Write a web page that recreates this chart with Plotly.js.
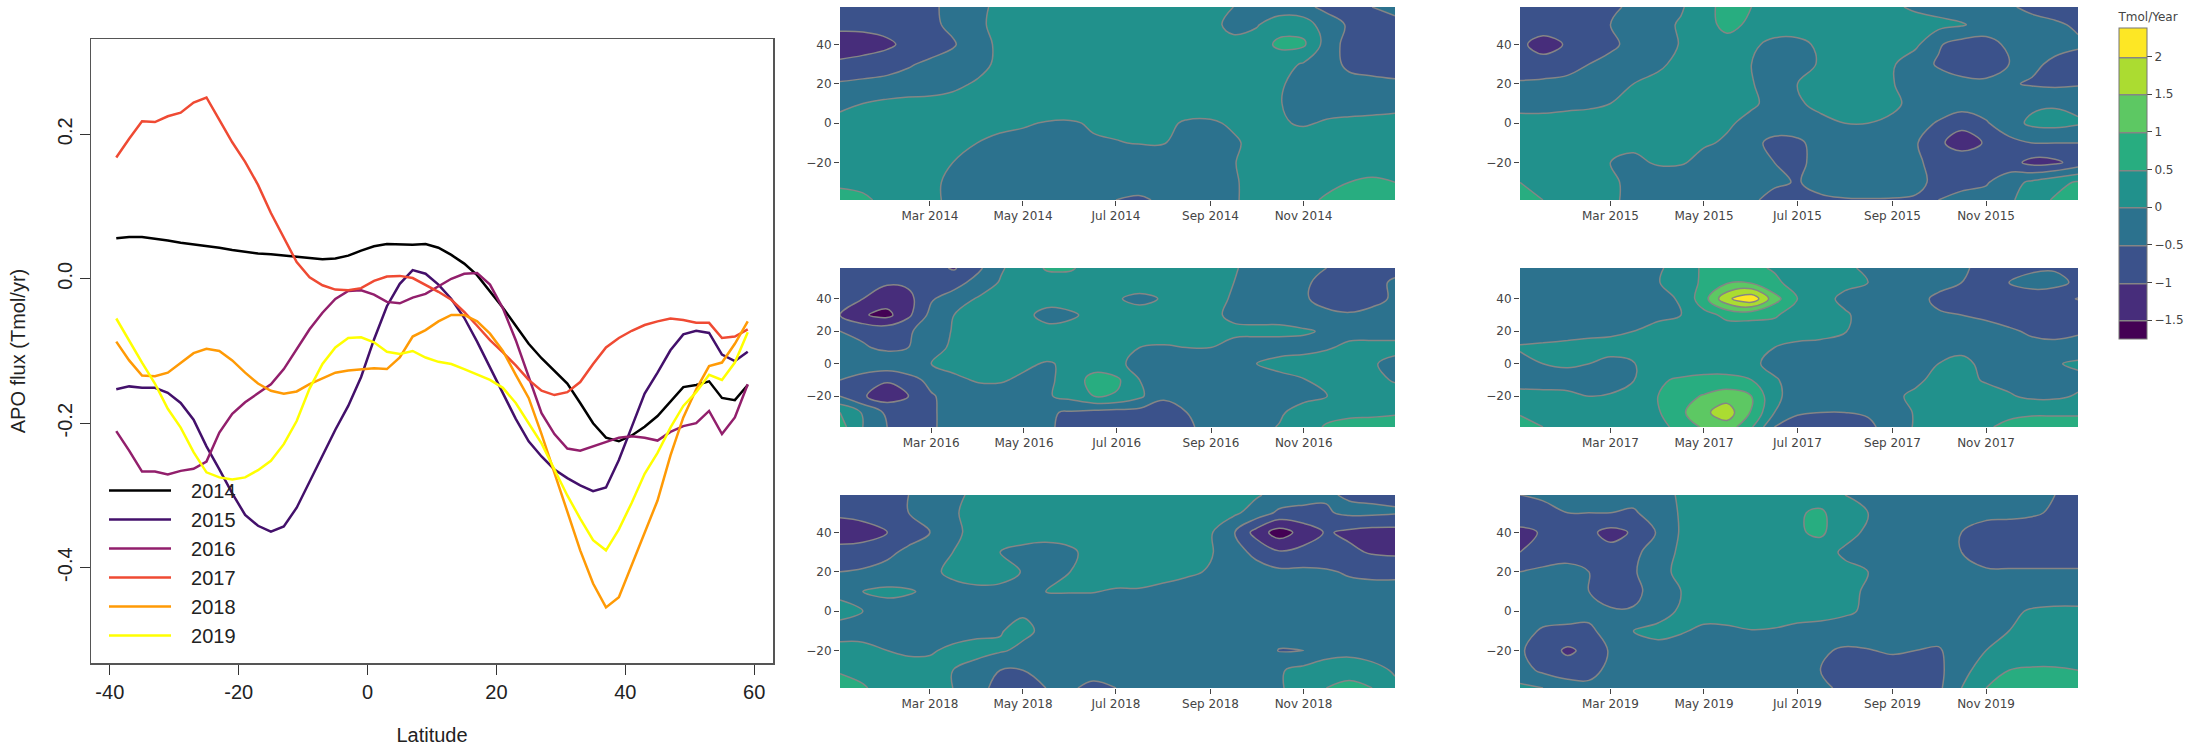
<!DOCTYPE html>
<html>
<head>
<meta charset="utf-8">
<script src="https://cdn.plot.ly/plotly-3.0.1.min.js"></script>
<style>
  html, body { margin: 0; padding: 0; background: #ffffff; }
  #chart { width: 2192px; height: 746px; }
</style>
</head>
<body>
<div id="chart"></div>
<script>
// ---- Zonal mean APO flux by year (left panel) ----
const latitudes = [-39,-37,-35,-33,-31,-29,-27,-25,-23,-21,-19,-17,-15,-13,-11,-9,-7,-5,-3,-1,
                   1,3,5,7,9,11,13,15,17,19,21,23,25,27,29,31,33,35,37,39,41,43,45,47,49,51,53,55,57,59];

const flux2014 = [0.056,0.058,0.058,0.056,0.053,0.050,0.048,0.046,0.043,0.040,
                  0.037,0.035,0.034,0.032,0.030,0.028,0.027,0.028,0.032,0.039,
                  0.045,0.048,0.047,0.047,0.048,0.043,0.033,0.021,0.005,-0.018,
                  -0.040,-0.065,-0.090,-0.110,-0.128,-0.145,-0.172,-0.200,-0.220,-0.225,
                  -0.217,-0.205,-0.190,-0.170,-0.150,-0.147,-0.142,-0.165,-0.168,-0.147];
const flux2015 = [-0.153,-0.149,-0.151,-0.151,-0.158,-0.172,-0.195,-0.232,-0.264,-0.297,
                  -0.327,-0.342,-0.350,-0.343,-0.317,-0.281,-0.243,-0.209,-0.176,-0.136,
                  -0.084,-0.038,-0.007,0.012,0.007,-0.008,-0.028,-0.054,-0.087,-0.123,
                  -0.159,-0.194,-0.225,-0.246,-0.264,-0.276,-0.286,-0.294,-0.289,-0.251,
                  -0.205,-0.159,-0.130,-0.099,-0.077,-0.072,-0.075,-0.105,-0.114,-0.101];
const flux2016 = [-0.211,-0.238,-0.267,-0.267,-0.271,-0.266,-0.263,-0.253,-0.213,-0.187,
                  -0.171,-0.159,-0.146,-0.125,-0.097,-0.070,-0.047,-0.028,-0.017,-0.016,
                  -0.022,-0.032,-0.034,-0.026,-0.021,-0.011,0.000,0.007,0.008,-0.008,
                  -0.041,-0.085,-0.135,-0.186,-0.215,-0.235,-0.238,-0.232,-0.225,-0.220,
                  -0.218,-0.220,-0.224,-0.212,-0.204,-0.200,-0.183,-0.215,-0.192,-0.146];
const flux2017 = [0.168,0.194,0.218,0.217,0.225,0.230,0.244,0.251,0.220,0.189,
                  0.162,0.130,0.091,0.056,0.023,0.002,-0.009,-0.015,-0.016,-0.013,
                  -0.003,0.003,0.004,0.001,-0.008,-0.018,-0.029,-0.046,-0.065,-0.085,
                  -0.102,-0.120,-0.140,-0.155,-0.161,-0.157,-0.143,-0.118,-0.095,-0.082,
                  -0.072,-0.064,-0.059,-0.055,-0.057,-0.061,-0.061,-0.082,-0.080,-0.070];
const flux2018 = [-0.087,-0.113,-0.134,-0.135,-0.130,-0.116,-0.103,-0.097,-0.100,-0.113,
                  -0.130,-0.145,-0.155,-0.159,-0.156,-0.146,-0.138,-0.130,-0.127,-0.125,
                  -0.124,-0.125,-0.109,-0.080,-0.071,-0.059,-0.050,-0.050,-0.059,-0.076,
                  -0.100,-0.133,-0.165,-0.215,-0.268,-0.324,-0.376,-0.422,-0.455,-0.441,
                  -0.396,-0.350,-0.307,-0.245,-0.192,-0.153,-0.121,-0.116,-0.090,-0.059];
const flux2019 = [-0.055,-0.086,-0.116,-0.145,-0.180,-0.206,-0.240,-0.268,-0.275,-0.278,
                  -0.275,-0.265,-0.252,-0.229,-0.197,-0.152,-0.118,-0.095,-0.082,-0.081,
                  -0.088,-0.101,-0.104,-0.100,-0.109,-0.115,-0.118,-0.125,-0.132,-0.140,
                  -0.151,-0.172,-0.200,-0.228,-0.264,-0.300,-0.332,-0.362,-0.376,-0.347,
                  -0.310,-0.270,-0.241,-0.206,-0.176,-0.157,-0.133,-0.140,-0.116,-0.074];

const years = ['2014','2015','2016','2017','2018','2019'];
const yearColors = ['#000000','#43106b','#921f6c','#ef4a33','#ff9a05','#ffff00'];
const zonalSeries = [flux2014, flux2015, flux2016, flux2017, flux2018, flux2019];

const xTickVals = [-40,-20,0,20,40,60];
const xTickText = ['-40','-20','0','20','40','60'];
const yTickVals = [-0.4,-0.2,0.0,0.2];
const yTickText = ['-0.4','-0.2','0.0','0.2'];

// ---- Time / latitude flux maps (right panels), Tmol/Year ----
const gridDays = ['01-01','01-16','02-01','02-15','03-01','03-16','04-01','04-16','05-01','05-16',
                  '06-01','06-16','07-01','07-16','08-01','08-16','09-01','09-16','10-01','10-16',
                  '11-01','11-16','12-01','12-16','12-31'];
const gridLats = [59,50,40,30,20,10,0,-10,-20,-30,-39];
const monthTicks = ['03-01','05-01','07-01','09-01','11-01'];

const map2014 = [
  [-0.8,-0.8,-0.75,-0.7,-0.6,-0.35,-0.15,0.15,0.25,0.3,0.3,0.3,0.3,0.3,0.3,0.25,0.15,0.0,-0.2,-0.3,-0.4,-0.6,-0.65,-0.5,-0.4],
  [-0.85,-0.85,-0.8,-0.75,-0.6,-0.4,-0.1,0.15,0.25,0.3,0.3,0.3,0.3,0.3,0.3,0.25,0.1,-0.1,-0.05,0.3,0.3,-0.3,-0.55,-0.65,-0.6],
  [-1.3,-1.25,-1.1,-0.85,-0.75,-0.55,-0.2,0.1,0.25,0.3,0.3,0.3,0.3,0.3,0.3,0.25,0.15,0.1,0.25,0.6,0.58,-0.2,-0.7,-0.75,-0.75],
  [-0.9,-0.8,-0.7,-0.55,-0.4,-0.3,-0.15,0.1,0.25,0.3,0.3,0.3,0.3,0.3,0.3,0.3,0.25,0.25,0.2,0.2,-0.05,-0.3,-0.6,-0.65,-0.65],
  [-0.45,-0.4,-0.35,-0.3,-0.25,-0.1,0.05,0.2,0.25,0.3,0.3,0.3,0.3,0.3,0.3,0.3,0.25,0.25,0.2,0.05,-0.15,-0.25,-0.35,-0.4,-0.45],
  [-0.15,0.0,0.1,0.15,0.15,0.15,0.2,0.25,0.3,0.3,0.3,0.3,0.3,0.3,0.3,0.25,0.2,0.2,0.15,0.02,-0.15,-0.2,-0.2,-0.15,-0.1],
  [0.2,0.25,0.25,0.25,0.25,0.2,0.15,0.1,0.05,-0.03,-0.05,0.05,0.1,0.15,0.1,-0.05,-0.05,0.05,0.1,0.05,-0.05,0.05,0.1,0.1,0.1],
  [0.25,0.3,0.3,0.25,0.2,0.1,0.0,-0.1,-0.15,-0.15,-0.1,-0.05,-0.02,0.02,0.02,-0.1,-0.15,-0.05,0.1,0.2,0.25,0.25,0.25,0.25,0.25],
  [0.3,0.3,0.3,0.25,0.1,0.0,-0.15,-0.25,-0.3,-0.3,-0.3,-0.3,-0.3,-0.3,-0.3,-0.25,-0.15,-0.02,0.15,0.25,0.3,0.3,0.35,0.35,0.4],
  [0.4,0.35,0.3,0.25,0.1,-0.1,-0.25,-0.3,-0.35,-0.35,-0.35,-0.35,-0.35,-0.35,-0.35,-0.3,-0.2,-0.05,0.15,0.25,0.3,0.4,0.5,0.55,0.5],
  [0.7,0.6,0.35,0.25,0.1,-0.1,-0.25,-0.3,-0.35,-0.4,-0.4,-0.45,-0.5,-0.55,-0.45,-0.35,-0.2,-0.05,0.15,0.3,0.4,0.55,0.7,0.75,0.7]
];
const map2015 = [
  [-0.55,-0.6,-0.6,-0.6,-0.55,-0.45,-0.25,-0.05,0.3,0.7,0.5,0.3,0.3,0.3,0.25,0.2,0.1,-0.1,-0.2,-0.3,-0.35,-0.45,-0.6,-0.65,-0.6],
  [-0.75,-0.75,-0.7,-0.6,-0.5,-0.35,-0.15,0.05,0.3,0.65,0.4,0.3,0.3,0.3,0.3,0.3,0.3,0.25,0.15,0.05,-0.2,-0.3,-0.35,-0.45,-0.55],
  [-0.9,-1.2,-0.95,-0.8,-0.6,-0.35,-0.15,0.02,0.25,0.3,0.1,-0.15,-0.15,0.1,0.25,0.25,0.2,0.1,-0.45,-0.7,-0.7,-0.4,-0.3,-0.35,-0.45],
  [-0.75,-0.8,-0.7,-0.5,-0.35,-0.3,-0.1,0.15,0.25,0.15,0.0,-0.2,-0.2,0.05,0.2,0.2,0.05,-0.3,-0.55,-0.75,-0.75,-0.5,-0.4,-0.6,-0.65],
  [-0.45,-0.4,-0.35,-0.3,-0.2,0.0,0.15,0.25,0.25,0.2,0.02,-0.15,0.0,0.15,0.25,0.2,0.02,-0.2,-0.3,-0.35,-0.4,-0.45,-0.55,-0.6,-0.55],
  [-0.2,-0.2,-0.15,-0.1,0.0,0.15,0.25,0.25,0.25,0.2,0.05,-0.1,-0.05,0.1,0.2,0.2,0.1,-0.15,-0.2,-0.25,-0.25,-0.2,-0.1,-0.05,-0.1],
  [0.2,0.2,0.25,0.25,0.25,0.25,0.25,0.2,0.15,0.05,-0.1,-0.2,-0.2,-0.1,0.0,0.0,-0.1,-0.3,-0.55,-0.85,-0.55,-0.2,0.1,0.15,0.05],
  [0.25,0.25,0.25,0.2,0.15,0.1,0.1,0.1,0.05,-0.05,-0.35,-0.65,-0.6,-0.3,-0.25,-0.25,-0.3,-0.45,-0.9,-1.25,-0.95,-0.65,-0.5,-0.5,-0.5],
  [0.3,0.3,0.25,0.15,0.0,-0.1,0.05,0.05,-0.15,-0.25,-0.35,-0.5,-0.6,-0.35,-0.3,-0.3,-0.35,-0.45,-0.6,-0.65,-0.7,-0.8,-1.15,-1.1,-0.8],
  [0.5,0.35,0.3,0.25,0.1,-0.15,-0.3,-0.35,-0.35,-0.4,-0.4,-0.45,-0.52,-0.4,-0.35,-0.3,-0.35,-0.45,-0.55,-0.6,-0.55,-0.2,0.1,0.35,0.55],
  [0.7,0.5,0.3,0.25,0.1,-0.15,-0.3,-0.35,-0.4,-0.4,-0.45,-0.6,-0.65,-0.55,-0.52,-0.52,-0.52,-0.52,-0.5,-0.4,-0.3,-0.1,0.3,0.55,0.7]
];
const map2016 = [
  [-0.55,-0.65,-0.7,-0.75,-0.85,-1.05,-0.6,-0.05,0.25,0.55,0.55,0.3,0.3,0.3,0.3,0.25,0.2,0.05,-0.2,-0.3,-0.4,-0.5,-0.65,-0.65,-0.6],
  [-0.75,-0.85,-0.95,-0.9,-0.75,-0.7,-0.3,0.05,0.25,0.3,0.3,0.3,0.3,0.3,0.3,0.25,0.2,0.0,-0.2,-0.3,-0.45,-0.6,-0.7,-0.6,-0.45],
  [-0.85,-1.0,-1.25,-1.15,-0.55,-0.25,0.05,0.2,0.25,0.3,0.3,0.25,0.05,-0.15,0.05,0.2,0.15,-0.05,-0.2,-0.3,-0.45,-0.65,-0.75,-0.6,-0.45],
  [-1.0,-1.45,-1.65,-1.1,-0.35,0.0,0.15,0.25,0.2,-0.25,-0.1,0.2,0.25,0.25,0.25,0.25,0.1,-0.1,-0.15,-0.15,-0.25,-0.4,-0.45,-0.4,-0.35],
  [-0.5,-0.6,-0.65,-0.55,-0.3,0.05,0.2,0.25,0.25,0.25,0.25,0.3,0.3,0.3,0.25,0.2,0.15,0.1,0.1,0.1,0.05,-0.05,-0.15,-0.2,-0.2],
  [-0.35,-0.45,-0.6,-0.5,-0.2,0.1,0.2,0.25,0.3,0.3,0.3,0.25,0.1,0.0,-0.05,0.0,0.0,-0.15,-0.2,-0.2,-0.15,-0.05,0.1,0.15,0.15],
  [-0.25,-0.2,-0.15,-0.1,0.0,0.15,0.25,0.2,0.1,-0.05,0.1,0.25,0.1,-0.15,-0.25,-0.25,-0.2,-0.15,0.0,0.15,0.2,0.25,0.2,0.05,-0.15],
  [-0.5,-0.7,-0.95,-0.7,-0.35,-0.1,0.05,0.05,-0.1,-0.1,0.2,0.7,0.6,0.0,-0.25,-0.3,-0.3,-0.3,-0.25,-0.15,-0.02,0.15,0.25,0.15,-0.05],
  [-0.5,-0.95,-1.25,-1.0,-0.55,-0.3,-0.25,-0.25,-0.2,-0.05,0.15,0.5,0.45,0.1,-0.45,-0.35,-0.3,-0.25,-0.2,-0.15,-0.1,-0.02,0.15,0.2,0.25],
  [0.5,-0.05,-0.6,-0.7,-0.55,-0.35,-0.3,-0.3,-0.35,-0.45,-0.55,-0.65,-0.7,-0.7,-0.65,-0.5,-0.35,-0.25,-0.15,-0.05,0.15,0.35,0.4,0.4,0.45],
  [0.7,0.0,-0.5,-0.7,-0.55,-0.35,-0.3,-0.35,-0.4,-0.45,-0.6,-0.7,-0.75,-0.75,-0.7,-0.55,-0.4,-0.25,-0.1,0.02,0.3,0.55,0.65,0.7,0.7]
];
const map2017 = [
  [-0.3,-0.3,-0.3,-0.3,-0.25,-0.2,-0.05,0.15,0.6,0.7,0.6,0.45,0.3,0.25,0.1,-0.1,-0.2,-0.3,-0.35,-0.45,-0.6,-0.65,-0.6,-0.55,-0.55],
  [-0.3,-0.3,-0.3,-0.3,-0.3,-0.2,-0.02,0.2,0.6,0.95,0.95,0.6,0.3,0.2,0.1,0.0,-0.15,-0.25,-0.35,-0.5,-0.65,-0.5,-0.3,-0.35,-0.6],
  [-0.3,-0.3,-0.3,-0.3,-0.3,-0.25,-0.15,0.05,0.8,1.9,2.38,1.2,0.5,0.15,-0.1,-0.2,-0.25,-0.35,-0.6,-0.75,-0.8,-0.8,-0.8,-0.85,-1.02],
  [-0.3,-0.3,-0.3,-0.25,-0.25,-0.2,-0.1,0.0,0.35,0.6,0.6,0.55,0.3,0.25,0.05,-0.15,-0.25,-0.35,-0.45,-0.5,-0.55,-0.65,-0.7,-0.7,-0.7],
  [-0.25,-0.25,-0.2,-0.15,-0.1,0.0,0.15,0.25,0.3,0.3,0.3,0.3,0.25,0.2,0.02,-0.15,-0.25,-0.3,-0.35,-0.35,-0.4,-0.45,-0.55,-0.6,-0.55],
  [0.05,0.1,0.15,0.2,0.2,0.25,0.3,0.3,0.3,0.25,0.15,0.0,-0.15,-0.2,-0.25,-0.25,-0.3,-0.3,-0.1,-0.1,-0.25,-0.35,-0.4,-0.4,-0.35],
  [-0.15,0.0,0.1,0.0,-0.15,-0.02,0.15,0.25,0.3,0.3,0.1,-0.15,-0.25,-0.3,-0.3,-0.3,-0.3,-0.25,0.0,0.1,-0.1,-0.2,-0.2,-0.05,0.1],
  [-0.25,-0.3,-0.3,-0.3,-0.25,-0.02,0.45,0.55,0.6,0.6,0.5,0.05,-0.2,-0.3,-0.3,-0.3,-0.25,-0.1,0.15,0.15,-0.05,-0.15,-0.2,-0.2,-0.15],
  [0.2,0.2,0.15,0.0,0.05,0.2,0.5,0.8,1.05,1.3,1.0,0.1,-0.2,-0.25,-0.25,-0.2,-0.1,0.1,0.2,0.25,0.2,0.05,-0.1,-0.1,0.05],
  [0.45,0.35,0.3,0.25,0.25,0.3,0.45,0.9,1.4,1.75,0.95,0.0,-0.45,-0.5,-0.5,-0.45,-0.3,0.05,0.25,0.3,0.35,0.4,0.45,0.45,0.45],
  [0.7,0.5,0.3,0.25,0.25,0.3,0.4,0.6,1.1,1.3,0.55,-0.5,-0.7,-0.75,-0.7,-0.6,-0.3,0.05,0.3,0.35,0.45,0.6,0.65,0.65,0.65]
];
const map2018 = [
  [-0.7,-0.7,-0.65,-0.5,-0.3,-0.1,0.1,0.2,0.25,0.2,0.15,0.25,0.25,0.25,0.25,0.25,0.25,0.2,0.05,-0.15,-0.3,-0.45,-0.55,-0.6,-0.6],
  [-0.9,-0.8,-0.7,-0.5,-0.3,-0.05,0.15,0.25,0.3,0.3,0.3,0.3,0.3,0.3,0.3,0.3,0.25,0.1,-0.2,-0.6,-0.65,-0.55,-0.4,-0.4,-0.45],
  [-1.3,-1.25,-1.0,-0.7,-0.5,-0.1,0.15,0.25,0.25,0.2,0.25,0.3,0.3,0.3,0.3,0.25,0.05,-0.45,-1.2,-1.75,-1.3,-0.95,-1.1,-1.2,-1.2],
  [-0.8,-0.75,-0.6,-0.4,-0.25,0.0,0.15,0.0,-0.15,-0.2,-0.1,0.2,0.25,0.25,0.25,0.2,0.05,-0.35,-0.6,-0.95,-0.85,-0.8,-0.9,-1.05,-1.1],
  [-0.5,-0.45,-0.35,-0.3,-0.1,0.1,0.2,0.15,-0.02,-0.05,0.0,0.2,0.25,0.25,0.2,0.1,-0.05,-0.25,-0.35,-0.4,-0.4,-0.45,-0.55,-0.6,-0.6],
  [-0.15,0.0,0.1,0.05,-0.1,-0.15,-0.1,-0.1,-0.05,0.0,0.02,0.02,-0.05,-0.05,-0.15,-0.25,-0.3,-0.3,-0.3,-0.3,-0.3,-0.35,-0.35,-0.35,-0.35],
  [0.2,0.0,-0.2,-0.25,-0.25,-0.25,-0.2,-0.15,-0.05,-0.15,-0.25,-0.3,-0.3,-0.3,-0.3,-0.3,-0.3,-0.3,-0.3,-0.3,-0.3,-0.3,-0.3,-0.3,-0.3],
  [-0.25,-0.2,-0.25,-0.25,-0.25,-0.2,-0.1,-0.02,0.1,-0.1,-0.25,-0.3,-0.3,-0.3,-0.3,-0.3,-0.3,-0.3,-0.3,-0.3,-0.3,-0.3,-0.3,-0.3,-0.3],
  [0.2,0.15,0.0,-0.1,-0.05,0.1,0.15,0.05,-0.1,-0.25,-0.3,-0.3,-0.3,-0.3,-0.3,-0.3,-0.3,-0.3,-0.35,-0.52,-0.5,-0.2,-0.15,-0.2,-0.25],
  [0.45,0.35,0.3,0.25,0.15,0.0,-0.2,-0.5,-0.5,-0.4,-0.35,-0.35,-0.35,-0.35,-0.35,-0.3,-0.3,-0.3,-0.2,-0.05,0.15,0.25,0.3,0.15,-0.05],
  [0.7,0.55,0.3,0.25,0.15,0.0,-0.3,-0.7,-0.7,-0.5,-0.45,-0.6,-0.5,-0.35,-0.3,-0.3,-0.3,-0.3,-0.2,-0.05,0.2,0.5,0.65,0.5,0.1]
];
const map2019 = [
  [-0.5,-0.45,-0.4,-0.4,-0.4,-0.35,-0.15,0.05,0.2,0.25,0.3,0.3,0.3,0.25,0.0,-0.2,-0.25,-0.3,-0.3,-0.35,-0.35,-0.4,-0.45,-0.5,-0.6],
  [-0.6,-0.6,-0.5,-0.5,-0.5,-0.55,-0.3,0.05,0.2,0.25,0.3,0.3,0.45,0.58,0.2,0.0,-0.2,-0.25,-0.3,-0.35,-0.4,-0.4,-0.45,-0.55,-0.6],
  [-1.15,-0.95,-0.75,-0.9,-1.15,-0.95,-0.45,0.05,0.25,0.3,0.3,0.3,0.45,0.58,0.2,-0.1,-0.25,-0.3,-0.4,-0.5,-0.65,-0.7,-0.7,-0.75,-0.95],
  [-1.0,-0.8,-0.7,-0.75,-0.85,-0.6,-0.3,0.1,0.25,0.3,0.3,0.3,0.3,0.25,-0.1,-0.25,-0.3,-0.35,-0.4,-0.5,-0.7,-0.75,-0.75,-0.75,-0.75],
  [-0.5,-0.4,-0.35,-0.5,-0.75,-0.55,-0.2,0.15,0.25,0.3,0.3,0.3,0.3,0.25,0.15,0.0,-0.2,-0.3,-0.35,-0.4,-0.45,-0.45,-0.45,-0.45,-0.45],
  [-0.25,-0.25,-0.3,-0.5,-0.7,-0.65,-0.25,0.0,0.2,0.3,0.3,0.3,0.3,0.25,0.1,-0.05,-0.2,-0.25,-0.3,-0.3,-0.3,-0.3,-0.3,-0.3,-0.3],
  [-0.3,-0.3,-0.3,-0.35,-0.45,-0.45,-0.3,0.1,0.2,0.25,0.3,0.3,0.3,0.25,0.1,-0.1,-0.2,-0.25,-0.3,-0.3,-0.3,-0.1,0.05,0.1,0.1],
  [-0.35,-0.55,-0.6,-0.6,-0.3,0.0,0.2,0.05,-0.1,-0.1,-0.02,-0.05,-0.2,-0.25,-0.3,-0.3,-0.3,-0.3,-0.3,-0.3,-0.25,0.0,0.15,0.2,0.2],
  [-0.45,-0.7,-1.1,-0.85,-0.45,-0.3,-0.25,-0.25,-0.3,-0.3,-0.3,-0.3,-0.35,-0.45,-0.55,-0.52,-0.45,-0.5,-0.55,-0.25,0.0,0.2,0.25,0.25,0.25],
  [-0.3,-0.6,-0.7,-0.7,-0.35,-0.3,-0.3,-0.3,-0.3,-0.3,-0.3,-0.35,-0.4,-0.5,-0.7,-0.7,-0.7,-0.7,-0.6,-0.2,0.3,0.5,0.55,0.55,0.5],
  [0.1,0.0,-0.3,-0.35,-0.35,-0.3,-0.3,-0.3,-0.3,-0.3,-0.3,-0.35,-0.4,-0.45,-0.55,-0.7,-0.7,-0.7,-0.6,0.0,0.5,0.65,0.7,0.7,0.7]
];
const fluxMaps = [map2014, map2015, map2016, map2017, map2018, map2019];

// ---- layout geometry (paper fractions; margins are zero) ----
const W = 2192, H = 746;
const fx = px => px / W;
const fy = px => 1 - px / H;
const colA = [fx(840), fx(1395)];
const colB = [fx(1520), fx(2078)];
const rows = [[fy(200), fy(7)], [fy(427), fy(268)], [fy(688), fy(495)]];
const panelDomains = [
  [colA, rows[0]], [colB, rows[0]],
  [colA, rows[1]], [colB, rows[1]],
  [colA, rows[2]], [colB, rows[2]]
];

const baseFont = 'Liberation Sans, Arial, sans-serif';
const mapFont = 'DejaVu Sans, Verdana, sans-serif';
const legendPad = '\u00a0\u00a0\u2009';

const traces = [];

// zonal mean lines
years.forEach((yr, i) => {
  traces.push({
    type: 'scatter', mode: 'lines',
    x: latitudes, y: zonalSeries[i],
    name: legendPad + yr, legendgroup: 'g' + yr,
    line: { color: yearColors[i], width: 2.5 },
    xaxis: 'x', yaxis: 'y',
    hoverinfo: 'skip'
  });
});

// filled contour maps
years.forEach((yr, i) => {
  const n = i + 2;
  traces.push({
    type: 'contour',
    x: gridDays.map(d => yr + '-' + d),
    y: gridLats.slice().reverse(),
    z: fluxMaps[i].slice().reverse(),
    xaxis: 'x' + n, yaxis: 'y' + n,
    colorscale: 'Viridis',
    zmin: -1.75, zmax: 2.38,
    contours: { start: -1.5, end: 2, size: 0.5, coloring: 'fill', showlines: true },
    line: { color: '#858585', width: 1.5, smoothing: 1.1 },
    showlegend: false,
    hoverinfo: 'skip',
    showscale: yr === '2017',
    colorbar: {
      title: { text: 'Tmol/Year', side: 'top', font: { family: mapFont, size: 12, color: '#444' } },
      thickness: 28, thicknessmode: 'pixels',
      len: 330, lenmode: 'pixels',
      x: fx(2119), xanchor: 'left', xpad: 0,
      y: fy(9), yanchor: 'top', ypad: 0,
      outlinewidth: 1, outlinecolor: '#777',
      ticks: 'outside', ticklen: 5, tickcolor: '#444',
      tick0: 0, dtick: 0.5,
      tickfont: { family: mapFont, size: 12, color: '#444' }
    }
  });
});

const layout = {
  width: W, height: H,
  margin: { l: 0, r: 0, t: 0, b: 0 },
  paper_bgcolor: '#ffffff',
  plot_bgcolor: '#ffffff',
  showlegend: true,
  legend: {
    x: fx(104), y: fy(471), xanchor: 'left', yanchor: 'top',
    bgcolor: 'rgba(0,0,0,0)', borderwidth: 0,
    font: { family: baseFont, size: 20, color: '#222' },
    tracegroupgap: 0, itemwidth: 62
  },
  xaxis: {
    domain: [fx(91), fx(773)], range: [-42.92, 62.92],
    tickmode: 'array', tickvals: xTickVals, ticktext: xTickText,
    ticks: 'outside', ticklen: 10, tickcolor: '#333', tickwidth: 1,
    showline: true, mirror: true, linecolor: '#555', linewidth: 1.5,
    showgrid: false, zeroline: false,
    tickfont: { family: baseFont, size: 20, color: '#222' },
    title: { text: 'Latitude', font: { family: baseFont, size: 20, color: '#222' }, standoff: 27 },
    anchor: 'y'
  },
  yaxis: {
    domain: [fy(663), fy(39)], range: [-0.532, 0.332],
    tickmode: 'array', tickvals: yTickVals, ticktext: yTickText, tickangle: -90,
    ticks: 'outside', ticklen: 10, tickcolor: '#333', tickwidth: 1,
    showline: true, mirror: true, linecolor: '#555', linewidth: 1.5,
    showgrid: false, zeroline: false,
    tickfont: { family: baseFont, size: 20, color: '#222' },
    title: { text: 'APO flux (Tmol/yr)', font: { family: baseFont, size: 20, color: '#222' }, standoff: 22 },
    anchor: 'x'
  }
};

years.forEach((yr, i) => {
  const n = i + 2;
  const [xd, yd] = panelDomains[i];
  layout['xaxis' + n] = {
    domain: xd, anchor: 'y' + n, type: 'date',
    range: [yr + '-01-01', yr + '-12-31'],
    tickmode: 'array', tickvals: monthTicks.map(d => yr + '-' + d), tickformat: '%b %Y',
    ticks: 'outside', ticklen: 5, tickcolor: '#444',
    showgrid: false, zeroline: false, showline: false,
    tickfont: { family: mapFont, size: 12, color: '#444' }
  };
  layout['yaxis' + n] = {
    domain: yd, anchor: 'x' + n,
    range: [-39, 59], dtick: 20, tick0: 0,
    ticks: 'outside', ticklen: 5, tickcolor: '#444',
    showgrid: false, zeroline: false, showline: false,
    tickfont: { family: mapFont, size: 12, color: '#444' }
  };
});

Plotly.newPlot('chart', traces, layout, { staticPlot: true, displayModeBar: false });
</script>
</body>
</html>
